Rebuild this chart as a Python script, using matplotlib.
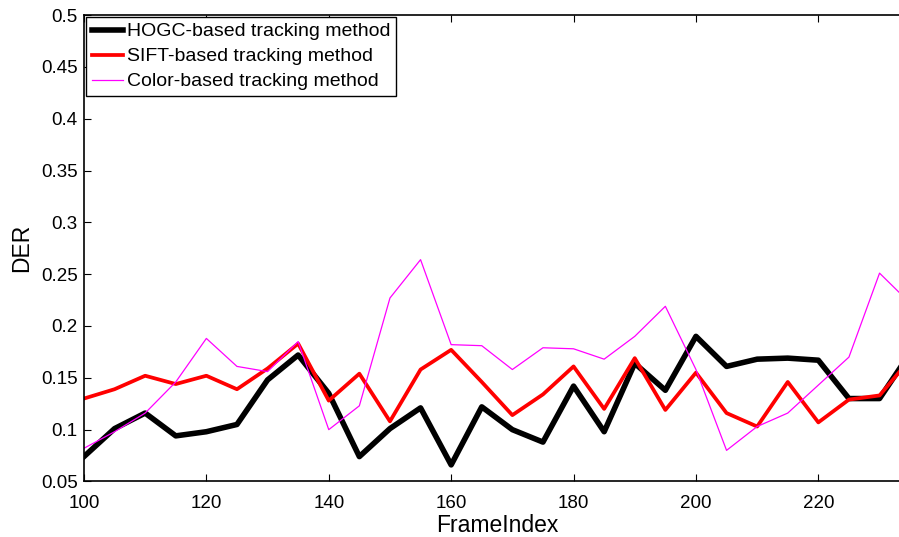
import numpy as np
from matplotlib import pyplot as plt
from matplotlib.ticker import FuncFormatter

plt.rcParams['font.family'] = ['Liberation Sans', 'DejaVu Sans']

frames = np.arange(100, 240, 5)

hogc = [0.074, 0.101, 0.116, 0.094, 0.098, 0.105, 0.148, 0.172, 0.135, 0.074,
        0.101, 0.121, 0.066, 0.122, 0.100, 0.088, 0.142, 0.098, 0.164, 0.138,
        0.190, 0.161, 0.168, 0.169, 0.167, 0.130, 0.130, 0.174]
sift = [0.130, 0.139, 0.152, 0.144, 0.152, 0.139, 0.159, 0.183, 0.128, 0.154,
        0.108, 0.158, 0.177, 0.146, 0.114, 0.134, 0.161, 0.120, 0.169, 0.119,
        0.155, 0.116, 0.103, 0.146, 0.107, 0.129, 0.133, 0.168]
color = [0.082, 0.098, 0.116, 0.146, 0.188, 0.161, 0.156, 0.185, 0.100, 0.123,
         0.227, 0.264, 0.182, 0.181, 0.158, 0.179, 0.178, 0.168, 0.190, 0.219,
         0.158, 0.080, 0.103, 0.116, 0.143, 0.170, 0.251, 0.222]

fig = plt.figure(figsize=(8.99, 5.37), dpi=100)
ax = fig.add_axes([0.0934, 0.1034, 0.919, 0.8686])

ax.plot(frames, hogc, color="black", lw=4.0, label="HOGC-based tracking method")
ax.plot(frames, sift, color="red", lw=2.7, label="SIFT-based tracking method")
ax.plot(frames, color, color="magenta", lw=0.9, label="Color-based tracking method")

ax.set_xlim(100, 235)
ax.set_ylim(0.05, 0.5)
ax.set_xticks(np.arange(100, 235, 20))
ax.set_yticks(np.arange(0.05, 0.51, 0.05))
ax.yaxis.set_major_formatter(FuncFormatter(lambda v, p: "%g" % round(v, 2)))
ax.tick_params(direction="in", top=True, right=True, labelsize=13.5, length=5, width=0.8)
ax.tick_params(axis="x", pad=10)
ax.tick_params(axis="y", pad=4.5)
for s in ax.spines.values():
    s.set_linewidth(1.2)

ax.set_xlabel("FrameIndex", fontsize=16.5, labelpad=1)
ax.set_ylabel("DER", fontsize=16.5, labelpad=6)

leg = ax.legend(loc="upper left", fontsize=14, fancybox=False, framealpha=1,
                borderaxespad=0.1, handlelength=1.6, handletextpad=0.2,
                borderpad=0.3, labelspacing=0.38)
leg.get_frame().set_edgecolor("black")
leg.get_frame().set_linewidth(1.0)

plt.savefig("out.png", dpi=100)
